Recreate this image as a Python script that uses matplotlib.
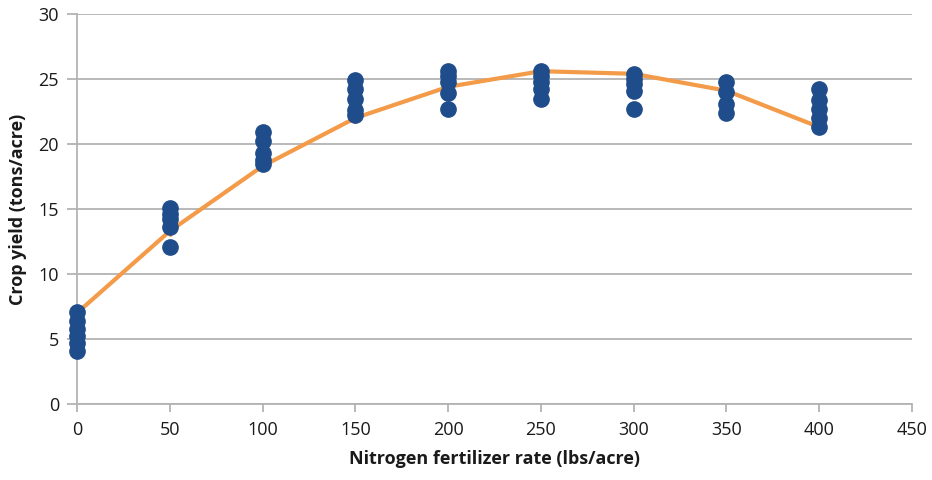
import numpy as np
import matplotlib
matplotlib.use("Agg")
import matplotlib.pyplot as plt

plt.rcParams["font.family"] = ["Open Sans", "DejaVu Sans"]

# ---- data ----
rates = [0, 50, 100, 150, 200, 250, 300, 350, 400]
yields = [
    [7.1, 6.4, 5.8, 5.2, 4.7, 4.1],
    [15.1, 14.6, 14.2, 13.6, 12.1],
    [20.9, 20.2, 19.3, 18.8, 18.5],
    [24.9, 24.2, 23.5, 22.6, 22.2],
    [25.6, 25.2, 24.8, 23.9, 22.7],
    [25.6, 25.2, 24.8, 24.2, 23.5],
    [25.4, 25.0, 24.6, 24.1, 22.7],
    [24.8, 24.0, 23.1, 22.4],
    [24.2, 23.4, 22.7, 22.0, 21.3],
]
fit = [7.0, 13.3, 18.3, 22.0, 24.4, 25.6, 25.4, 24.1, 21.3]

BLUE = "#1F4C8A"
ORANGE = "#F39B48"
GRID = "#B3B3B3"

fig = plt.figure(figsize=(9.32, 4.8), dpi=100)
ax = fig.add_axes([77/932, 76/480, 835/932, 390/480])

ax.plot(rates, fit, "-", color=ORANGE, lw=3, marker="D", ms=5,
        solid_capstyle="round", zorder=2, clip_on=False)
for x, ys in zip(rates, yields):
    ax.plot([x]*len(ys), ys, "o", color=BLUE, ms=11, mec=BLUE, zorder=3,
            linestyle="none", clip_on=False)

ax.set_xlim(0, 450)
ax.set_ylim(0, 30)
ax.set_xticks(np.arange(0, 451, 50))
ax.set_yticks(np.arange(0, 31, 5))
ax.grid(axis="y", color=GRID, lw=1.3)
ax.set_axisbelow(True)
for s in ["top", "right"]:
    ax.spines[s].set_visible(False)
for s in ["left", "bottom"]:
    ax.spines[s].set_color(GRID)
    ax.spines[s].set_linewidth(1.3)
ax.tick_params(axis="x", length=6, width=1.3, color=GRID, labelsize=13,
               pad=6, labelcolor="#1a1a1a")
ax.tick_params(axis="y", length=7, width=1.3, color=GRID, labelsize=13,
               pad=6, labelcolor="#1a1a1a")
ax.set_xlabel("Nitrogen fertilizer rate (lbs/acre)", fontsize=13,
              fontweight="bold", labelpad=8, color="#1a1a1a")
ax.set_ylabel("Crop yield (tons/acre)", fontsize=13, fontweight="bold",
              labelpad=8, color="#1a1a1a")

fig.savefig("out.png", dpi=100)
